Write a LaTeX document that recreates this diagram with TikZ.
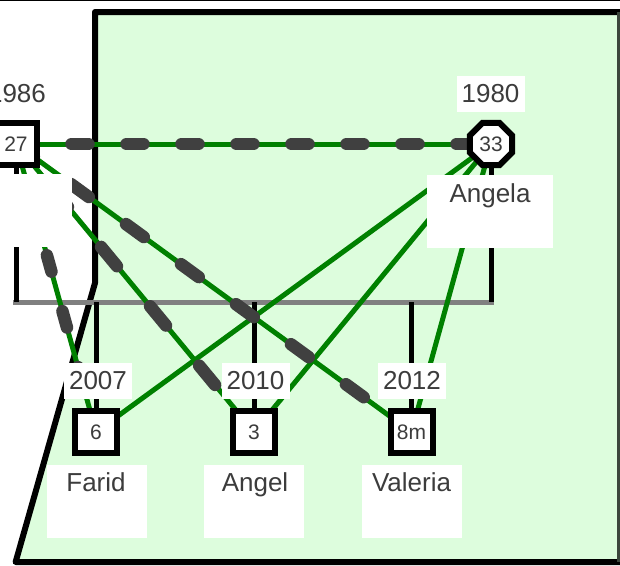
\documentclass[tikz,border=0pt]{standalone}
\usepackage{fontspec}
\setmainfont{Liberation Sans}
\usetikzlibrary{shapes.geometric}
\pgfdeclarelayer{bg}
\pgfsetlayers{bg,main}
\definecolor{regiongreen}{RGB}{221,253,221}
\definecolor{relgreen}{RGB}{0,128,0}
\definecolor{dashgrey}{RGB}{64,64,64}
\definecolor{bargrey}{RGB}{128,128,128}
\definecolor{txtgrey}{RGB}{60,60,60}
\definecolor{edgegrey}{RGB}{60,70,60}
\tikzset{
  malebox/.style={rectangle, draw=black, line width=6pt, fill=white, minimum width=42pt, minimum height=42pt, inner sep=0pt, text=txtgrey, font=\fontsize{21pt}{23pt}\selectfont},
  femalebox/.style={regular polygon, regular polygon sides=8, draw=black, line width=6pt, fill=white, minimum size=45.5pt, inner sep=0pt, text=txtgrey, font=\fontsize{21pt}{23pt}\selectfont},
  yearlabel/.style={fill=white, minimum width=68pt, minimum height=36pt, inner sep=0pt, text=txtgrey, font=\fontsize{26pt}{30pt}\selectfont},
  namebg/.style={fill=white, inner sep=0pt, minimum height=73pt},
  nametext/.style={anchor=base, inner sep=0pt, text=txtgrey, font=\fontsize{26pt}{30pt}\selectfont},
  regionline/.style={draw=black, line width=6pt, line join=round},
  sibbar/.style={draw=bargrey, line width=5pt},
  descent/.style={draw=black, line width=5pt},
  rel/.style={draw=relgreen, line width=5pt},
  distant/.style={draw=dashgrey, line width=12.5pt, line cap=round},
}
\begin{document}
\begin{tikzpicture}[x=1pt,y=-1pt]
\useasboundingbox (0,0) rectangle (620,565);
\clip (0,0) rectangle (620,565);

% label backgrounds (white)
\node[namebg, minimum width=112pt] (nb27) at (16,210.5) {};
\node[namebg, minimum width=126pt] (nb33) at (490,211.5) {};
\node[namebg, minimum width=100pt] (nb6) at (97,501.5) {};
\node[namebg, minimum width=100pt] (nb3) at (253.5,501.5) {};
\node[namebg, minimum width=100pt] (nb8) at (412,501.5) {};

\node[yearlabel] (y27) at (17,93.5) {1986};
\node[yearlabel] (y33) at (490.5,93.5) {1980};
\node[yearlabel] (y6) at (98,380.5) {2007};
\node[yearlabel] (y3) at (255.5,380.5) {2010};
\node[yearlabel] (y8) at (412,380.5) {2012};

% persons
\node[malebox] (n27) at (16,144) {27};
\node[femalebox] (n33) at (491,144) {33};
\node[malebox] (n6) at (96,432) {6};
\node[malebox] (n3) at (254,432) {3};
\node[malebox] (n8) at (411.5,432) {8m};

% names
\node[nametext] (t33) at (490,202) {Angela};
\node[nametext] (t6) at (96,491) {Farid};
\node[nametext] (t3) at (255,491) {Angel};
\node[nametext] (t8) at (411.5,491) {Valeria};

\coordinate (barL) at (13,302);
\coordinate (barR) at (494,302);

\begin{pgfonlayer}{bg}
  \fill[white] (0,0) rectangle (620,565);
  \draw[regionline, fill=regiongreen] (95,12) -- (628,12) -- (628,562) -- (15.6,562) -- (95,283) -- cycle;
  \draw[black, line width=1.2pt] (0,0.6) -- (620,0.6);
  \draw[edgegrey, line width=2.5pt] (618.5,12) -- (618.5,562);
  % sibling bar and descent lines
  \draw[sibbar] (barL) -- (barR);
  \draw[descent] (n27.south) -- (n27.south |- barL);
  \draw[descent] (n33.south) -- (n33.south |- barL);
  \draw[descent] (n6.north) -- (n6.north |- barL);
  \draw[descent] (n3.north) -- (n3.north |- barL);
  \draw[descent] (n8.north) -- (n8.north |- barL);
  % relationship lines
  \draw[rel] (n27.center) -- (n33.center);
  \draw[rel] (n27.center) -- (n8.center);
  \draw[rel] (n27.center) -- (n3.center);
  \draw[rel] (n27.center) -- (n6.center);
  \draw[rel] (n33.center) -- (n6.center);
  \draw[rel] (n33.center) -- (n3.center);
  \draw[rel] (n33.center) -- (n8.center);
  \draw[distant, dash pattern=on 17pt off 38pt, dash phase=54.5pt] (n27.center) -- (n33.center);
  \draw[distant, dash pattern=on 22pt off 46pt, dash phase=67.9pt] (n27.center) -- (n8.center);
  \draw[distant, dash pattern=on 25pt off 52pt, dash phase=20.5pt] (n27.center) -- (n3.center);
  \draw[distant, dash pattern=on 17pt off 41pt, dash phase=0.5pt] (n27.center) -- (n6.center);
\end{pgfonlayer}
\end{tikzpicture}
\end{document}
